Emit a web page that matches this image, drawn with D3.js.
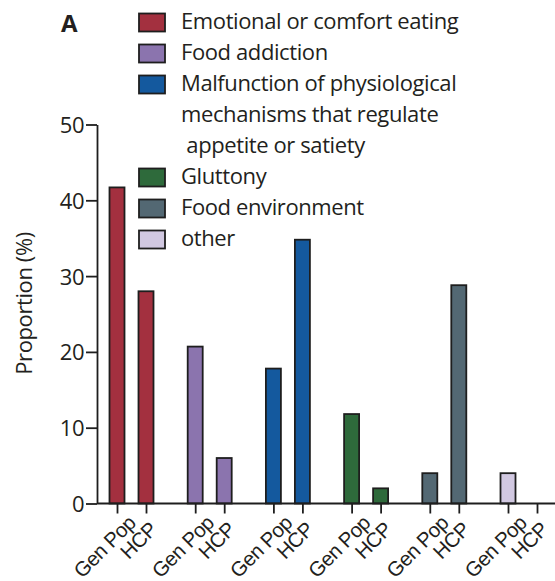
<!DOCTYPE html>
<html><head><meta charset="utf-8">
<script src="https://cdn.jsdelivr.net/npm/d3@7"></script>
<style>
html,body{margin:0;padding:0;background:#fff;}
svg{display:block;font-family:"Open Sans", "Noto Sans", sans-serif;}
</style></head>
<body><svg id="c" width="555" height="581"></svg>
<script>
const categories = ["Emotional or comfort eating","Food addiction","Malfunction of physiological mechanisms that regulate appetite or satiety","Gluttony","Food environment","other"];
const legendLines = [["Emotional or comfort eating"],["Food addiction"],["Malfunction of physiological","mechanisms that regulate"," appetite or satiety"],["Gluttony"],["Food environment"],["other"]];
const groups = ["Gen Pop","HCP"];
const genPopValues = [41.7, 20.7, 17.8, 11.8, 4, 4];
const hcpValues = [28, 6, 34.8, 2, 28.8, 0];
const colors = ["#a3303f","#8b74ae","#14599e","#2e6a3b","#536873","#d1c8e1"];
const yTicks = [0,10,20,30,40,50];

const svg = d3.select("#c");
const y = d3.scaleLinear().domain([0,50]).range([503.5,124.5]);
const x0 = d3.scaleBand().domain(categories).range([102,571.2]);
const x1 = d3.scalePoint().domain(groups).range([15,44]);
const col = d3.scaleOrdinal().domain(categories).range(colors);

const bars = [];
categories.forEach((c,i)=>{
  bars.push({cat:c, grp:"Gen Pop", v:genPopValues[i], key:c+"|Gen Pop"});
  bars.push({cat:c, grp:"HCP", v:hcpValues[i], key:c+"|HCP"});
});
const xPos = d3.scaleOrdinal().domain(bars.map(d=>d.key)).range(bars.map(d=>x0(d.cat)+x1(d.grp)));

const ink = "#1e1e1e";
const txt = "#231f20";
const bw = 15;
svg.append("g").selectAll("rect").data(bars.filter(d=>d.v>0)).join("rect")
  .attr("x", d=>xPos(d.key)-bw/2)
  .attr("y", d=>y(d.v))
  .attr("width", bw)
  .attr("height", d=>y(0)-y(d.v))
  .attr("fill", d=>col(d.cat))
  .attr("stroke", ink).attr("stroke-width", 1.8);

// y axis
const yAxis = svg.append("g").attr("transform","translate(97,0)")
  .call(d3.axisLeft(y).tickValues(yTicks).tickSize(11).tickSizeOuter(0).tickPadding(2));
yAxis.select(".domain").attr("stroke", ink).attr("stroke-width",1.8);
yAxis.selectAll(".tick line").attr("stroke", ink).attr("stroke-width",1.8);
yAxis.selectAll(".tick text").attr("font-size",22).attr("fill",txt).attr("font-family","Open Sans").attr("dy","0.36em").attr("letter-spacing","-0.5");

// x axis
svg.append("line").attr("x1",97).attr("x2",555).attr("y1",y(0)).attr("y2",y(0)).attr("stroke",ink).attr("stroke-width",1.8);
const xAxis = svg.append("g").attr("transform",`translate(0,${y(0)})`)
  .call(d3.axisBottom(xPos).tickSize(10).tickFormat(k=>k.split("|")[1]));
xAxis.select(".domain").remove();
xAxis.selectAll(".tick line").attr("stroke", ink).attr("stroke-width",1.8);
const labelOffset = {"Gen Pop":[-13,43], "HCP":[-8,37]};
xAxis.selectAll(".tick text")
  .attr("font-size",20.5).attr("fill",txt).attr("letter-spacing","-0.5")
  .attr("text-anchor","middle")
  .attr("y",null).attr("dy","0.35em")
  .attr("transform",k=>{const o=labelOffset[k.split("|")[1]];return `translate(${o[0]},${o[1]}) rotate(-45)`;});

// y label
svg.append("text").attr("transform","translate(32,303.5) rotate(-90)")
  .attr("text-anchor","middle").attr("font-size",22).attr("fill",txt).attr("letter-spacing","-0.4")
  .text("Proportion (%)");

// panel letter
svg.append("text").attr("x",61).attr("y",32).attr("font-size",24).attr("font-weight","bold").attr("fill",txt).text("A");

// legend
const rowH = 31;
let row = 0;
const lg = svg.append("g");
categories.forEach((c,i)=>{
  const yy = 13.5 + row*rowH;
  lg.append("rect").attr("x",139).attr("y",yy).attr("width",26).attr("height",18)
    .attr("fill",col(c)).attr("stroke",ink).attr("stroke-width",1.8);
  legendLines[i].forEach((t,j)=>{
    lg.append("text").attr("x",181).attr("y",yy+15.5+j*rowH).attr("font-size",22)
      .attr("letter-spacing","-0.4").attr("fill",txt).style("white-space","pre").text(t);
  });
  row += legendLines[i].length;
});
</script></body></html>
